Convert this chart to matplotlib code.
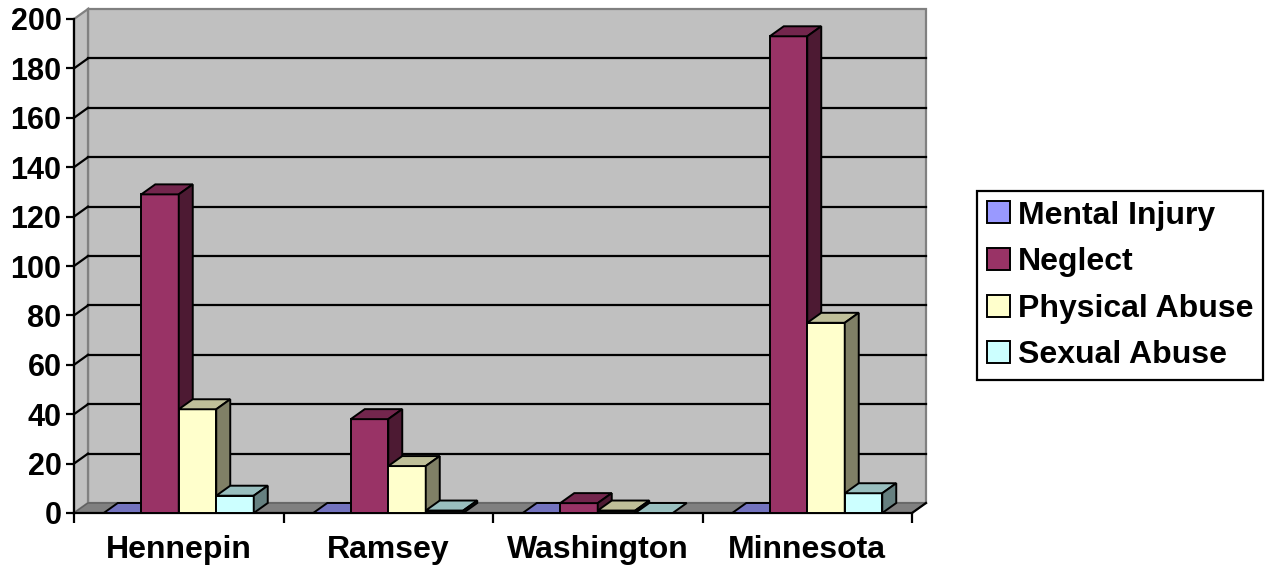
import matplotlib
matplotlib.use("Agg")
import matplotlib.pyplot as plt
from matplotlib.patches import Polygon, Patch
from matplotlib.colors import to_rgb

# ---------------- data ----------------
categories = ["Hennepin", "Ramsey", "Washington", "Minnesota"]
series_names = ["Mental Injury", "Neglect", "Physical Abuse", "Sexual Abuse"]
mental_injury = [0, 0, 0, 0]
neglect = [129, 38, 4, 193]
physical_abuse = [42, 19, 1, 77]
sexual_abuse = [7, 1, 0, 8]
y_ticks = [0, 20, 40, 60, 80, 100, 120, 140, 160, 180, 200]

series_values = [mental_injury, neglect, physical_abuse, sexual_abuse]
front_colors = ["#9999FF", "#993366", "#FFFFCC", "#CCFFFF"]

plt.rcParams['font.family'] = ['Liberation Sans', 'DejaVu Sans']
plt.rcParams['font.weight'] = 'bold'


def shade(c, f):
    r, g, b = to_rgb(c)
    return (r * f, g * f, b * f)


W, H = 1267, 569
fig = plt.figure(figsize=(W / 100, H / 100), dpi=100)
fig.patch.set_facecolor("white")

x_left, x_right, y_top, y_bot = 74, 912, 19, 513
ax = fig.add_axes([x_left / W, (H - y_bot) / H, (x_right - x_left) / W, (y_bot - y_top) / H])
ax.patch.set_visible(False)
ncat = len(categories)
ymax = y_ticks[-1]
ax.set_xlim(0, ncat)
ax.set_ylim(0, ymax)

px_x = (x_right - x_left) / ncat
px_y = (y_bot - y_top) / ymax
DX = 14 / px_x
DY = 10 / px_y

# walls
back = Polygon([(DX, DY), (ncat + DX, DY), (ncat + DX, ymax + DY), (DX, ymax + DY)],
               closed=True, facecolor="#C0C0C0", edgecolor="#808080", lw=1.6,
               zorder=0.5, clip_on=False)
ax.add_patch(back)
side = Polygon([(0, 0), (DX, DY), (DX, ymax + DY), (0, ymax)],
               closed=True, facecolor="#C0C0C0", edgecolor="#808080", lw=1.6,
               zorder=0.6, clip_on=False)
ax.add_patch(side)
floor = Polygon([(0, 0), (ncat, 0), (ncat + DX, DY), (DX, DY)],
                closed=True, facecolor="#808080", edgecolor="#606060", lw=1.0,
                zorder=0.7, clip_on=False)
ax.add_patch(floor)
ax.plot([ncat, ncat + DX], [0, DY], color="black", lw=1.6, zorder=0.8, clip_on=False)

# gridlines
for v in y_ticks[1:-1]:
    ax.plot([DX, ncat + DX], [v + DY, v + DY], color="black", lw=1.6, zorder=1, clip_on=False)
    ax.plot([0, DX], [v, v + DY], color="black", lw=1.6, zorder=1, clip_on=False)

# bars
nser = len(series_values)
gap = 0.284
w = (1 - gap) / nser
elw = 1.4
for i in range(ncat):
    for j in range(nser):
        h = series_values[j][i]
        x0 = i + gap / 2 + j * w
        z = 3 + j * 0.1
        fc = front_colors[j]
        ax.bar(x0, h, width=w, align="edge", color=fc, edgecolor="black",
               lw=elw, zorder=z, clip_on=False)
        top = Polygon([(x0, h), (x0 + w, h), (x0 + w + DX, h + DY), (x0 + DX, h + DY)],
                      closed=True, facecolor=shade(fc, 0.75), edgecolor="black",
                      lw=elw, zorder=z + 0.01, clip_on=False, joinstyle="miter")
        ax.add_patch(top)
        if h > 0:
            sd = Polygon([(x0 + w, 0), (x0 + w + DX, DY), (x0 + w + DX, h + DY), (x0 + w, h)],
                         closed=True, facecolor=shade(fc, 0.5), edgecolor="black",
                         lw=elw, zorder=z + 0.02, clip_on=False, joinstyle="miter")
            ax.add_patch(sd)

# axes styling
for s in ["top", "right"]:
    ax.spines[s].set_visible(False)
for s in ["left", "bottom"]:
    ax.spines[s].set_color("black")
    ax.spines[s].set_linewidth(1.6)
    ax.spines[s].set_zorder(2)

ax.set_yticks(y_ticks)
ax.set_yticklabels([str(v) for v in y_ticks], fontsize=22, fontweight="bold")
ax.tick_params(axis="y", length=6, width=1.6, pad=3, direction="out")

ax.set_xticks(range(ncat + 1))
ax.set_xticklabels([])
ax.tick_params(axis="x", which="major", length=7.5, width=1.6, direction="out")
ax.set_xticks([i + 0.5 for i in range(ncat)], minor=True)
ax.set_xticklabels(categories, minor=True, fontsize=23, fontweight="bold")
ax.tick_params(axis="x", which="minor", length=0, pad=16)

# legend
handles = [Patch(facecolor=c, edgecolor="black", lw=1.4) for c in front_colors]
leg = fig.legend(handles, series_names, loc="upper left",
                 bbox_to_anchor=(977 / W, 1 - 191 / H), bbox_transform=fig.transFigure,
                 frameon=True, fancybox=False, framealpha=1, edgecolor="black",
                 borderaxespad=0, prop={"size": 23, "weight": "bold"},
                 handlelength=0.72, handleheight=0.68, handletextpad=0.26,
                 labelspacing=0.52, borderpad=0.3)
leg.get_frame().set_linewidth(1.6)

fig.savefig("out.png", dpi=100, facecolor="white")
